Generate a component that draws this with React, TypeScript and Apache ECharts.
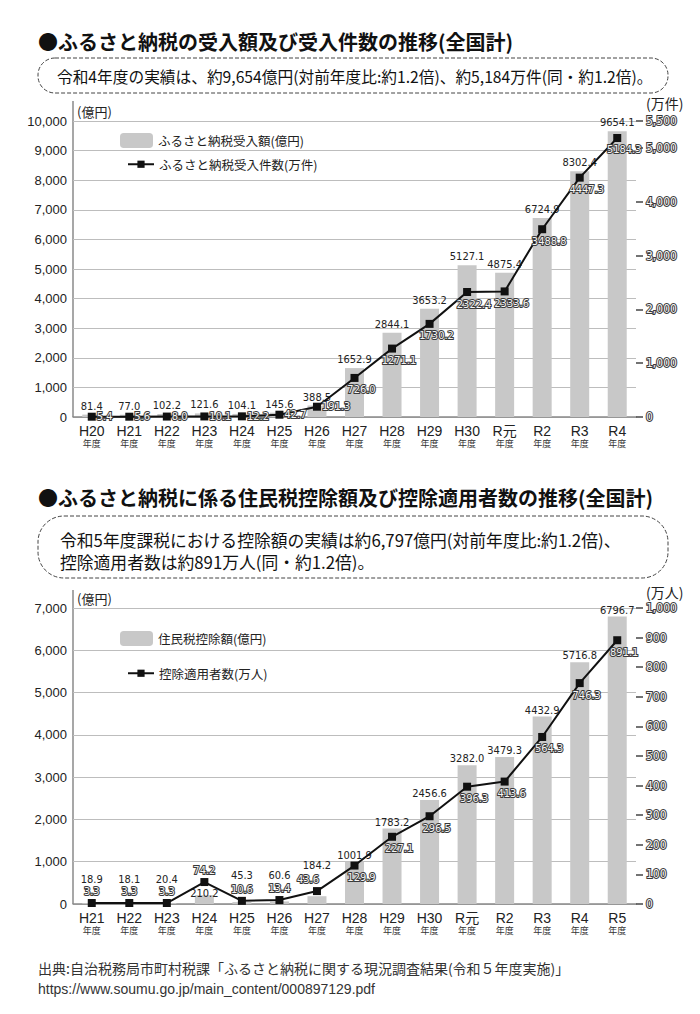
import React, { useEffect, useRef } from 'react';
import * as echarts from 'echarts';

// ---- Data (chart 1) ----
const years1 = ['H20', 'H21', 'H22', 'H23', 'H24', 'H25', 'H26', 'H27', 'H28', 'H29', 'H30', 'R元', 'R2', 'R3', 'R4'];
const amount1 = [81.4, 77.0, 102.2, 121.6, 104.1, 145.6, 388.5, 1652.9, 2844.1, 3653.2, 5127.1, 4875.4, 6724.9, 8302.4, 9654.1];
const count1 = [5.4, 5.6, 8.0, 10.1, 12.2, 42.7, 191.3, 726.0, 1271.1, 1730.2, 2322.4, 2333.6, 3488.8, 4447.3, 5184.3];

// ---- Data (chart 2) ----
const years2 = ['H21', 'H22', 'H23', 'H24', 'H25', 'H26', 'H27', 'H28', 'H29', 'H30', 'R元', 'R2', 'R3', 'R4', 'R5'];
const amount2 = [18.9, 18.1, 20.4, 210.2, 45.3, 60.6, 184.2, 1001.9, 1783.2, 2456.6, 3282.0, 3479.3, 4432.9, 5716.8, 6796.7];
const count2 = [3.3, 3.3, 3.3, 74.2, 10.6, 13.4, 43.6, 129.9, 227.1, 296.5, 396.3, 413.6, 564.3, 746.3, 891.1];

const name1Bar = 'ふるさと納税受入額(億円)';
const name1Line = 'ふるさと納税受入件数(万件)';
const name2Bar = '住民税控除額(億円)';
const name2Line = '控除適用者数(万人)';

// label placement styles (not data)
const lineLabelMode1 = ['right', 'right', 'right', 'right', 'right', 'right', 'right', 'below', 'below', 'below', 'below', 'below', 'below', 'below', 'below'];
const lineLabelMode2 = ['top', 'top', 'top', 'top', 'top', 'top', 'topleft', 'below', 'below', 'below', 'below', 'below', 'below', 'below', 'below'];
const barLabelShift2 = [-17, -17, -17, 5, -20, -19, -24, 0, 0, 0, 0, 0, 0, 0, 0];

const NUM_FONT = "'DejaVu Sans Condensed', 'Liberation Sans Narrow', 'Liberation Sans', Arial, sans-serif";
const SANS = "'Liberation Sans', Arial, 'Noto Sans CJK JP', sans-serif";
const JP = "'Noto Sans CJK JP', 'Noto Sans', sans-serif";

const outlined = (size: number) => ({
  color: '#f4f4f4',
  textBorderColor: '#3a3a3a',
  textBorderWidth: 2,
  fontSize: size,
  fontFamily: NUM_FONT,
});

const fmt = (v: number) => v.toLocaleString('en-US');
const fix1 = (p: any) => Number(p.value).toFixed(1);

function lineLabel(mode: string) {
  if (mode === 'right') return { position: 'right', distance: 1 };
  if (mode === 'top') return { position: 'top', distance: 2 };
  if (mode === 'topleft') return { position: 'top', distance: 2, offset: [-9, 0] };
  return { position: 'inside', offset: [7, 12] };
}

function xAxisCfg(gridIndex: number, data: string[]) {
  return {
    type: 'category',
    gridIndex,
    data,
    axisLine: { lineStyle: { color: '#8a8a8a', width: 1.5 } },
    axisTick: { alignWithLabel: true, length: 6, lineStyle: { color: '#555', width: 1.2 } },
    axisLabel: {
      margin: 6,
      interval: 0,
      formatter: (v: string) => `{a|${v}}\n{b|年度}`,
      rich: {
        a: { fontSize: 14, color: '#222', lineHeight: 15, fontFamily: SANS },
        b: { fontSize: 9, color: '#333', lineHeight: 11, fontFamily: JP },
      },
    },
  };
}

function leftAxisCfg(gridIndex: number, max: number) {
  return {
    type: 'value',
    gridIndex,
    min: 0,
    max,
    interval: 1000,
    axisLine: { show: false },
    axisTick: { show: false },
    axisLabel: { margin: 6, fontSize: 13, color: '#222', fontFamily: SANS, formatter: fmt },
    splitLine: { lineStyle: { color: '#bdbdbd', width: 1 } },
  };
}

function rightAxisCfg(gridIndex: number, max: number, interval: number) {
  return {
    type: 'value',
    gridIndex,
    position: 'right',
    min: 0,
    max,
    interval,
    axisLine: { show: false },
    axisTick: { show: true, length: 7, lineStyle: { color: '#444', width: 1.5 } },
    axisLabel: { margin: 10, ...outlined(12), formatter: fmt },
    splitLine: { show: false },
  };
}

export default function App() {
  const ref = useRef<HTMLDivElement>(null);

  useEffect(() => {
    if (!ref.current) return;
    const chart = echarts.init(ref.current, undefined, { renderer: 'svg' });

    const bar1 = amount1.map((v) => ({ value: v }));
    const line1 = count1.map((v, i) => ({ value: v, label: lineLabel(lineLabelMode1[i]) }));
    const bar2 = amount2.map((v, i) => ({ value: v, label: { offset: [0, barLabelShift2[i]] } }));
    const line2 = count2.map((v, i) => ({ value: v, label: lineLabel(lineLabelMode2[i]) }));

    const legendText = { fontSize: 12.5, color: '#222', fontFamily: JP };

    const option: any = {
      animation: false,
      backgroundColor: '#ffffff',
      grid: [
        { left: 73, right: 64, top: 121, bottom: 1014 - 417 },
        { left: 73, right: 64, top: 608, bottom: 1014 - 904 },
      ],
      xAxis: [xAxisCfg(0, years1), xAxisCfg(1, years2)],
      yAxis: [
        leftAxisCfg(0, 10000),
        rightAxisCfg(0, 5500, 1000),
        leftAxisCfg(1, 7000),
        rightAxisCfg(1, 1000, 100),
      ],
      legend: [
        { data: [name1Bar], left: 115, top: 128, itemWidth: 33, itemHeight: 15, itemGap: 0, selectedMode: false, textStyle: legendText },
        { data: [name1Line], left: 122, top: 153, itemWidth: 26, itemHeight: 9, selectedMode: false, textStyle: legendText },
        { data: [name2Bar], left: 115, top: 626, itemWidth: 33, itemHeight: 15, selectedMode: false, textStyle: legendText },
        { data: [name2Line], left: 122, top: 662, itemWidth: 26, itemHeight: 9, selectedMode: false, textStyle: legendText },
      ],
      series: [
        {
          type: 'bar', name: name1Bar, xAxisIndex: 0, yAxisIndex: 0, barWidth: 19,
          itemStyle: { color: '#c8c8c8' },
          label: { show: true, position: 'top', distance: 3, fontSize: 11, color: '#222', fontFamily: NUM_FONT, formatter: fix1 },
          data: bar1,
        },
        {
          type: 'line', name: name1Line, xAxisIndex: 0, yAxisIndex: 1,
          symbol: 'rect', symbolSize: 8,
          lineStyle: { color: '#111', width: 2 }, itemStyle: { color: '#111' },
          label: { show: true, ...outlined(11), formatter: fix1 },
          data: line1, z: 3,
        },
        {
          type: 'bar', name: name2Bar, xAxisIndex: 1, yAxisIndex: 2, barWidth: 19,
          itemStyle: { color: '#c8c8c8' },
          label: { show: true, position: 'top', distance: 1, fontSize: 11, color: '#222', fontFamily: NUM_FONT, formatter: fix1 },
          data: bar2,
        },
        {
          type: 'line', name: name2Line, xAxisIndex: 1, yAxisIndex: 3,
          symbol: 'rect', symbolSize: 8,
          lineStyle: { color: '#111', width: 2 }, itemStyle: { color: '#111' },
          label: { show: true, ...outlined(11), formatter: fix1 },
          data: line2, z: 3,
        },
      ],
      graphic: [
        { type: 'text', x: 38, y: 41, style: { text: '●ふるさと納税の受入額及び受入件数の推移(全国計)', fontSize: 20, fontWeight: 'bold', fill: '#111', fontFamily: JP, textVerticalAlign: 'middle' } },
        { type: 'rect', shape: { x: 38, y: 58, width: 630, height: 35, r: 17 }, style: { fill: 'none', stroke: '#444', lineWidth: 1, lineDash: [4, 2] } },
        { type: 'text', x: 57, y: 76, style: { text: '令和4年度の実績は、約9,654億円(対前年度比:約1.2倍)、約5,184万件(同・約1.2倍)。', fontSize: 15.7, fill: '#111', fontFamily: JP, textVerticalAlign: 'middle' } },
        { type: 'text', x: 77, y: 111, style: { text: '(億円)', fontSize: 13, fill: '#222', fontFamily: JP, textVerticalAlign: 'middle' } },
        { type: 'text', x: 646, y: 103, style: { text: '(万件)', fontSize: 14, fill: '#222', fontFamily: JP, textVerticalAlign: 'middle' } },
        { type: 'line', shape: { x1: 73, y1: 101, x2: 73, y2: 417 }, style: { stroke: '#8a8a8a', lineWidth: 1.5 } },

        { type: 'text', x: 38, y: 497, style: { text: '●ふるさと納税に係る住民税控除額及び控除適用者数の推移(全国計)', fontSize: 20, fontWeight: 'bold', fill: '#111', fontFamily: JP, textVerticalAlign: 'middle' } },
        { type: 'rect', shape: { x: 38, y: 516, width: 630, height: 62, r: 26 }, style: { fill: 'none', stroke: '#444', lineWidth: 1, lineDash: [4, 2] } },
        { type: 'text', x: 60, y: 540, style: { text: '令和5年度課税における控除額の実績は約6,797億円(対前年度比:約1.2倍)、', fontSize: 16.8, fill: '#111', fontFamily: JP, textVerticalAlign: 'middle' } },
        { type: 'text', x: 60, y: 562, style: { text: '控除適用者数は約891万人(同・約1.2倍)。', fontSize: 16.8, fill: '#111', fontFamily: JP, textVerticalAlign: 'middle' } },
        { type: 'text', x: 77, y: 598, style: { text: '(億円)', fontSize: 13, fill: '#222', fontFamily: JP, textVerticalAlign: 'middle' } },
        { type: 'text', x: 646, y: 592, style: { text: '(万人)', fontSize: 14, fill: '#222', fontFamily: JP, textVerticalAlign: 'middle' } },
        { type: 'line', shape: { x1: 73, y1: 590, x2: 73, y2: 904 }, style: { stroke: '#8a8a8a', lineWidth: 1.5 } },

        { type: 'text', x: 38, y: 968, style: { text: '出典:自治税務局市町村税課「ふるさと納税に関する現況調査結果(令和５年度実施)」', fontSize: 14, fill: '#333', fontFamily: JP, textVerticalAlign: 'middle' } },
        { type: 'text', x: 38, y: 989, style: { text: 'https://www.soumu.go.jp/main_content/000897129.pdf', fontSize: 14, fill: '#333', fontFamily: SANS, textVerticalAlign: 'middle' } },
      ],
    };

    chart.setOption(option);
    return () => chart.dispose();
  }, []);

  return <div ref={ref} style={{ position: 'absolute', left: 0, top: 0, width: 700, height: 1014 }} />;
}
